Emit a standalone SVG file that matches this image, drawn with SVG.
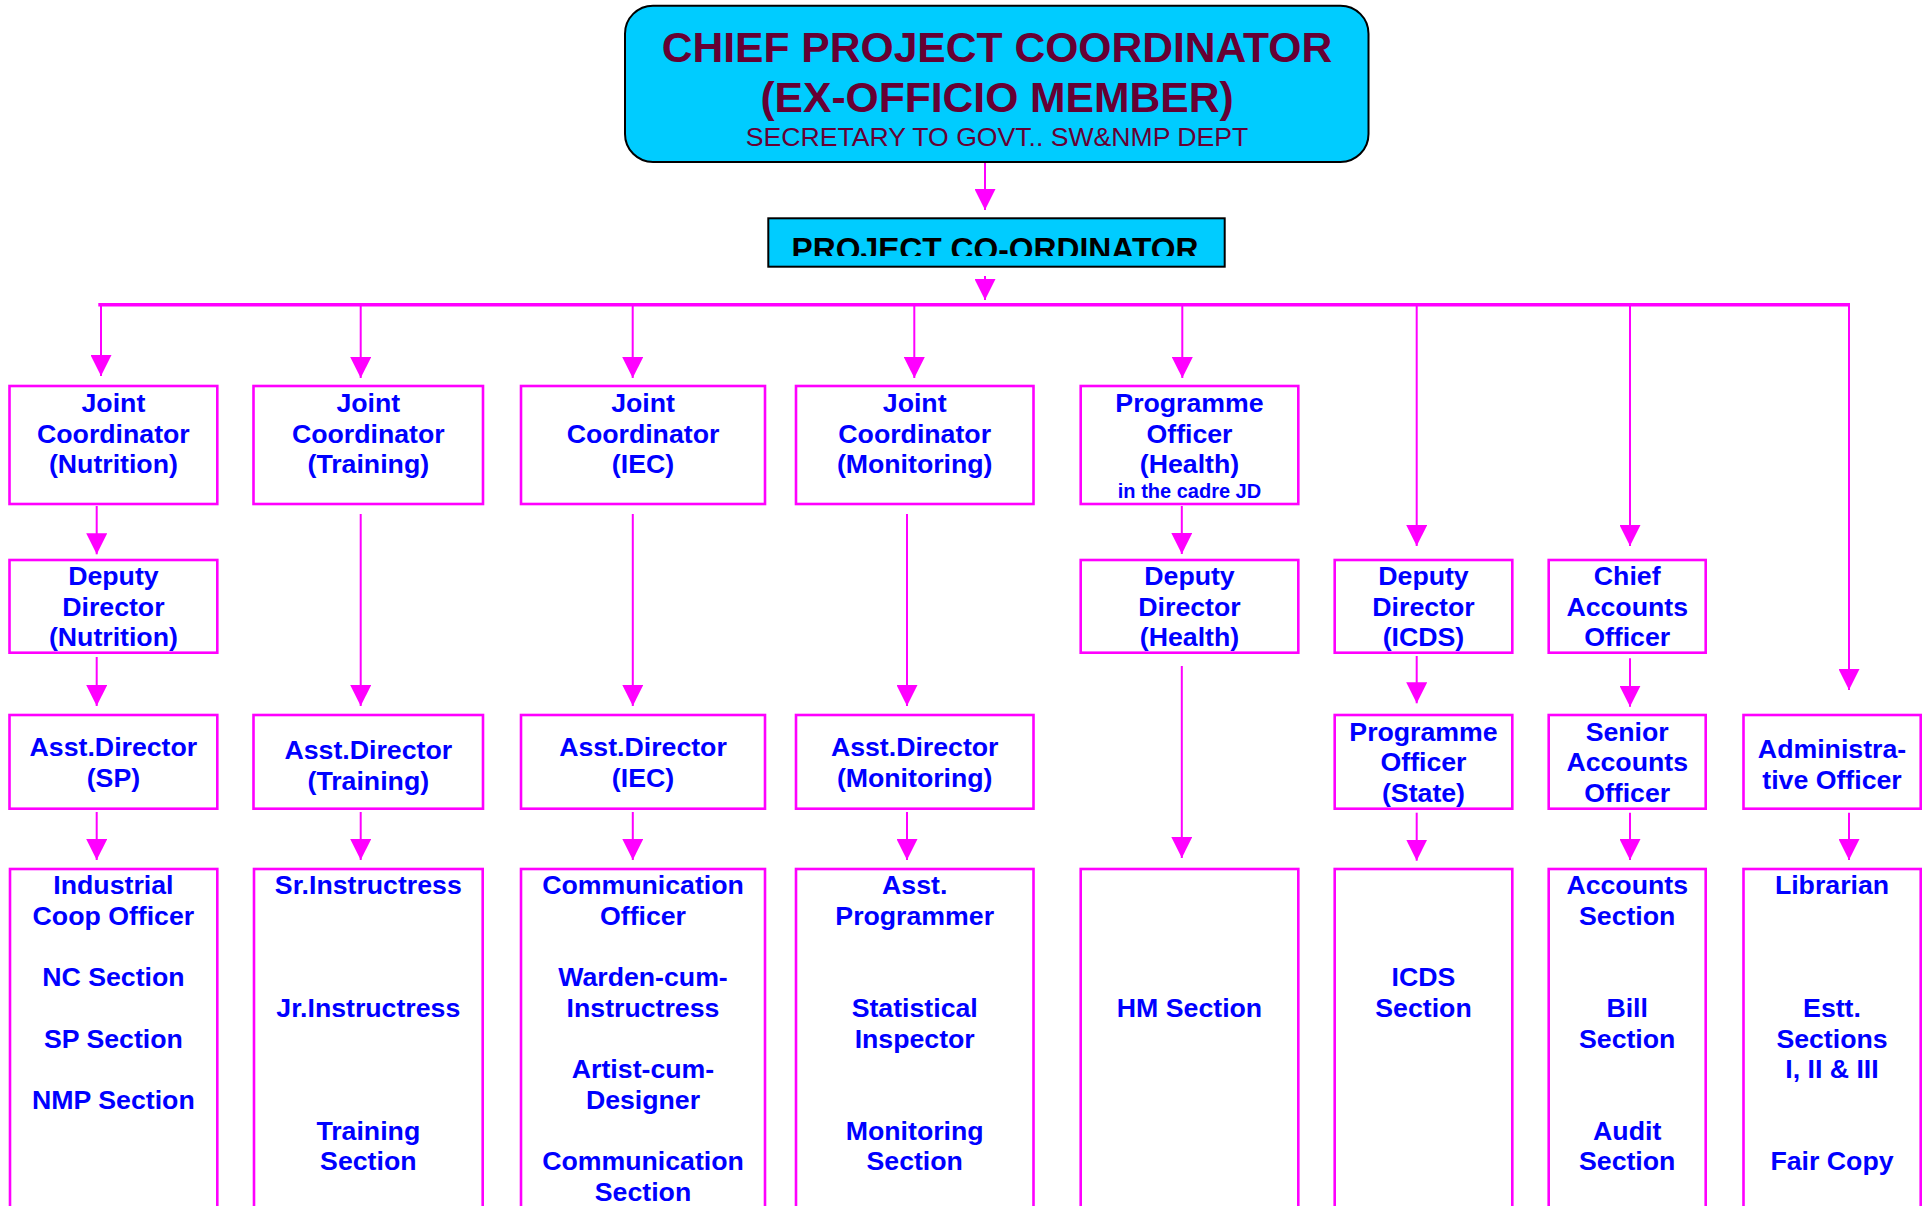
<svg xmlns="http://www.w3.org/2000/svg" width="1922" height="1206" viewBox="0 0 1922 1206">
<style>
.bx{fill:#fff;stroke:#FF00FF;stroke-width:2.6}
.t{font-family:"Liberation Sans",Arial,sans-serif;font-weight:bold;font-size:26.7px;fill:#0000FF;text-anchor:middle}
.sm{font-size:20px}
.ln{stroke:#FF00FF;stroke-width:2;fill:none}
.hl{stroke:#FF00FF;stroke-width:3.4;fill:none}
.ar{stroke:#FF00FF;stroke-width:2;fill:none;marker-end:url(#ah)}
.top{font-family:"Liberation Sans",Arial,sans-serif;fill:#660033;text-anchor:middle}
</style>
<defs>
<marker id="ah" markerUnits="userSpaceOnUse" markerWidth="21" markerHeight="21" viewBox="0 0 20 20" refX="20" refY="10" orient="auto">
<path d="M0,0 L20,10 L0,20 z" fill="#FF00FF"/>
</marker>
<clipPath id="pcclip"><rect x="768" y="218" width="457" height="38"/></clipPath>
</defs>
<rect width="1922" height="1206" fill="#fff"/>

<g id="connectors">
<line class="ar" x1="985" y1="162" x2="985" y2="210"/>
<line class="ar" x1="985" y1="276" x2="985" y2="300"/>
<line class="hl" x1="98.3" y1="304.7" x2="1849.5" y2="304.7"/>
<line class="ar" x1="101" y1="304.7" x2="101" y2="376"/>
<line class="ar" x1="360.7" y1="304.7" x2="360.7" y2="378"/>
<line class="ar" x1="632.7" y1="304.7" x2="632.7" y2="378"/>
<line class="ar" x1="914.3" y1="304.7" x2="914.3" y2="378"/>
<line class="ar" x1="1182.3" y1="304.7" x2="1182.3" y2="378"/>
<line class="ar" x1="1416.7" y1="304.7" x2="1416.7" y2="546"/>
<line class="ar" x1="1630" y1="304.7" x2="1630" y2="546"/>
<line class="ar" x1="1849" y1="303" x2="1849" y2="690"/>
<line class="ar" x1="96.7" y1="506" x2="96.7" y2="554.3"/>
<line class="ar" x1="96.7" y1="657" x2="96.7" y2="706"/>
<line class="ar" x1="96.7" y1="812" x2="96.7" y2="860"/>
<line class="ar" x1="360.7" y1="514" x2="360.7" y2="706"/>
<line class="ar" x1="360.7" y1="812" x2="360.7" y2="860"/>
<line class="ar" x1="632.8" y1="514" x2="632.8" y2="706"/>
<line class="ar" x1="632.8" y1="812" x2="632.8" y2="860"/>
<line class="ar" x1="907" y1="514" x2="907" y2="706"/>
<line class="ar" x1="907" y1="812" x2="907" y2="860"/>
<line class="ar" x1="1181.8" y1="506" x2="1181.8" y2="554"/>
<line class="ar" x1="1181.8" y1="666" x2="1181.8" y2="858"/>
<line class="ar" x1="1416.7" y1="656" x2="1416.7" y2="703.3"/>
<line class="ar" x1="1416.7" y1="812.7" x2="1416.7" y2="860.7"/>
<line class="ar" x1="1630" y1="658.3" x2="1630" y2="706.7"/>
<line class="ar" x1="1630" y1="812.7" x2="1630" y2="860"/>
<line class="ar" x1="1849" y1="812.7" x2="1849" y2="860"/>
</g>

<g id="chief">
<rect x="625" y="5.7" width="743.5" height="156.3" rx="28" ry="28" fill="#00CCFF" stroke="#000" stroke-width="2"/>
<text class="top" x="997" y="62.3" font-size="42.6" font-weight="bold">CHIEF PROJECT COORDINATOR</text>
<text class="top" x="997" y="111.7" font-size="42.6" font-weight="bold">(EX-OFFICIO MEMBER)</text>
<text class="top" x="997" y="145.7" font-size="26.6">SECRETARY TO GOVT.. SW&amp;NMP DEPT</text>
</g>

<g id="project-coordinator">
<rect x="768.3" y="218.3" width="456.4" height="48.4" fill="#00CCFF" stroke="#000" stroke-width="2"/>
<text x="995" y="259.5" clip-path="url(#pcclip)" font-family="Liberation Sans, Arial, sans-serif" font-weight="bold" font-size="31.8" fill="#000" text-anchor="middle">PROJECT CO-ORDINATOR</text>
</g>

<!-- Row 1 -->
<g id="jc-nutrition">
<rect class="bx" x="9.5" y="386" width="207.8" height="118"/>
<text class="t" x="113.4" y="411.7">Joint</text>
<text class="t" x="113.4" y="442.5">Coordinator</text>
<text class="t" x="113.4" y="473">(Nutrition)</text>
</g>
<g id="jc-training">
<rect class="bx" x="253.5" y="386" width="229.5" height="118"/>
<text class="t" x="368.3" y="411.7">Joint</text>
<text class="t" x="368.3" y="442.5">Coordinator</text>
<text class="t" x="368.3" y="473">(Training)</text>
</g>
<g id="jc-iec">
<rect class="bx" x="521" y="386" width="244" height="118"/>
<text class="t" x="643" y="411.7">Joint</text>
<text class="t" x="643" y="442.5">Coordinator</text>
<text class="t" x="643" y="473">(IEC)</text>
</g>
<g id="jc-monitoring">
<rect class="bx" x="796" y="386" width="237.5" height="118"/>
<text class="t" x="914.7" y="411.7">Joint</text>
<text class="t" x="914.7" y="442.5">Coordinator</text>
<text class="t" x="914.7" y="473">(Monitoring)</text>
</g>
<g id="po-health">
<rect class="bx" x="1080.7" y="386" width="217.6" height="118"/>
<text class="t" x="1189.5" y="411.7">Programme</text>
<text class="t" x="1189.5" y="442.5">Officer</text>
<text class="t" x="1189.5" y="473">(Health)</text>
<text class="t sm" x="1189.5" y="498.3">in the cadre JD</text>
</g>

<!-- Row 2 -->
<g id="dd-nutrition">
<rect class="bx" x="9.5" y="560" width="207.8" height="92.7"/>
<text class="t" x="113.4" y="585">Deputy</text>
<text class="t" x="113.4" y="615.7">Director</text>
<text class="t" x="113.4" y="646.4">(Nutrition)</text>
</g>
<g id="dd-health">
<rect class="bx" x="1080.7" y="560" width="217.6" height="92.7"/>
<text class="t" x="1189.5" y="585">Deputy</text>
<text class="t" x="1189.5" y="615.7">Director</text>
<text class="t" x="1189.5" y="646.4">(Health)</text>
</g>
<g id="dd-icds">
<rect class="bx" x="1334.7" y="560" width="177.6" height="92.7"/>
<text class="t" x="1423.5" y="585">Deputy</text>
<text class="t" x="1423.5" y="615.7">Director</text>
<text class="t" x="1423.5" y="646.4">(ICDS)</text>
</g>
<g id="chief-accounts">
<rect class="bx" x="1548.7" y="560" width="157" height="92.7"/>
<text class="t" x="1627.2" y="585">Chief</text>
<text class="t" x="1627.2" y="615.7">Accounts</text>
<text class="t" x="1627.2" y="646.4">Officer</text>
</g>

<!-- Row 3 -->
<g id="ad-sp">
<rect class="bx" x="9.5" y="715" width="207.8" height="93.7"/>
<text class="t" x="113.4" y="756">Asst.Director</text>
<text class="t" x="113.4" y="786.7">(SP)</text>
</g>
<g id="ad-training">
<rect class="bx" x="253.5" y="715" width="229.5" height="93.7"/>
<text class="t" x="368.3" y="759.3">Asst.Director</text>
<text class="t" x="368.3" y="790">(Training)</text>
</g>
<g id="ad-iec">
<rect class="bx" x="521" y="715" width="244" height="93.7"/>
<text class="t" x="643" y="756">Asst.Director</text>
<text class="t" x="643" y="786.7">(IEC)</text>
</g>
<g id="ad-monitoring">
<rect class="bx" x="796" y="715" width="237.5" height="93.7"/>
<text class="t" x="914.7" y="756">Asst.Director</text>
<text class="t" x="914.7" y="786.7">(Monitoring)</text>
</g>
<g id="po-state">
<rect class="bx" x="1334.7" y="715" width="177.6" height="93.7"/>
<text class="t" x="1423.5" y="740.5">Programme</text>
<text class="t" x="1423.5" y="771">Officer</text>
<text class="t" x="1423.5" y="801.5">(State)</text>
</g>
<g id="senior-accounts">
<rect class="bx" x="1548.7" y="715" width="157" height="93.7"/>
<text class="t" x="1627.2" y="740.5">Senior</text>
<text class="t" x="1627.2" y="771">Accounts</text>
<text class="t" x="1627.2" y="801.5">Officer</text>
</g>
<g id="admin-officer">
<rect class="bx" x="1743.5" y="715" width="177.2" height="93.7"/>
<text class="t" x="1832" y="758">Administra-</text>
<text class="t" x="1832" y="788.7">tive Officer</text>
</g>

<!-- Row 4 -->
<g id="sec-nutrition">
<rect class="bx" x="10" y="869" width="207.3" height="360"/>
<text class="t" x="113.4" y="894">Industrial</text>
<text class="t" x="113.4" y="924.7">Coop Officer</text>
<text class="t" x="113.4" y="986">NC Section</text>
<text class="t" x="113.4" y="1047.5">SP Section</text>
<text class="t" x="113.4" y="1109">NMP Section</text>
</g>
<g id="sec-training">
<rect class="bx" x="254" y="869" width="228.7" height="360"/>
<text class="t" x="368.3" y="894">Sr.Instructress</text>
<text class="t" x="368.3" y="1016.8">Jr.Instructress</text>
<text class="t" x="368.3" y="1139.6">Training</text>
<text class="t" x="368.3" y="1170.3">Section</text>
</g>
<g id="sec-iec">
<rect class="bx" x="521" y="869" width="244" height="360"/>
<text class="t" x="643" y="894">Communication</text>
<text class="t" x="643" y="924.7">Officer</text>
<text class="t" x="643" y="986">Warden-cum-</text>
<text class="t" x="643" y="1016.8">Instructress</text>
<text class="t" x="643" y="1078.2">Artist-cum-</text>
<text class="t" x="643" y="1109">Designer</text>
<text class="t" x="643" y="1170.3">Communication</text>
<text class="t" x="643" y="1201">Section</text>
</g>
<g id="sec-monitoring">
<rect class="bx" x="796" y="869" width="237.5" height="360"/>
<text class="t" x="914.7" y="894">Asst.</text>
<text class="t" x="914.7" y="924.7">Programmer</text>
<text class="t" x="914.7" y="1016.8">Statistical</text>
<text class="t" x="914.7" y="1047.5">Inspector</text>
<text class="t" x="914.7" y="1139.6">Monitoring</text>
<text class="t" x="914.7" y="1170.3">Section</text>
</g>
<g id="sec-health">
<rect class="bx" x="1080.7" y="869" width="217.6" height="360"/>
<text class="t" x="1189.5" y="1016.8">HM Section</text>
</g>
<g id="sec-icds">
<rect class="bx" x="1334.7" y="869" width="177.6" height="360"/>
<text class="t" x="1423.5" y="986">ICDS</text>
<text class="t" x="1423.5" y="1016.8">Section</text>
</g>
<g id="sec-accounts">
<rect class="bx" x="1548.7" y="869" width="157" height="360"/>
<text class="t" x="1627.2" y="894">Accounts</text>
<text class="t" x="1627.2" y="924.7">Section</text>
<text class="t" x="1627.2" y="1016.8">Bill</text>
<text class="t" x="1627.2" y="1047.5">Section</text>
<text class="t" x="1627.2" y="1139.6">Audit</text>
<text class="t" x="1627.2" y="1170.3">Section</text>
</g>
<g id="sec-admin">
<rect class="bx" x="1743.5" y="869" width="177.2" height="360"/>
<text class="t" x="1832" y="894">Librarian</text>
<text class="t" x="1832" y="1016.8">Estt.</text>
<text class="t" x="1832" y="1047.5">Sections</text>
<text class="t" x="1832" y="1078.2">I, II &amp; III</text>
<text class="t" x="1832" y="1170.3">Fair Copy</text>
</g>
</svg>
